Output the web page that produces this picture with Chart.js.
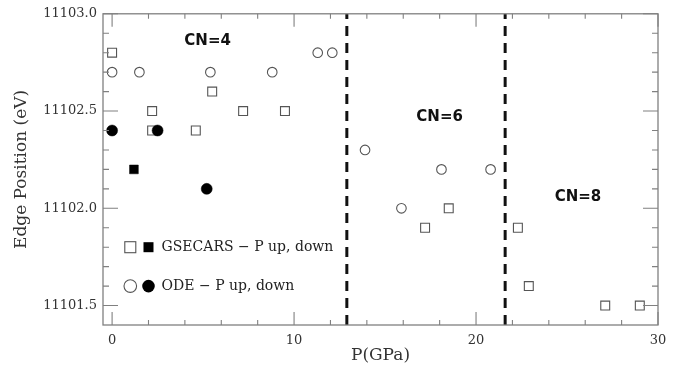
<!DOCTYPE html>
<html>
<head>
<meta charset="utf-8">
<script src="https://cdn.jsdelivr.net/npm/chart.js@4/dist/chart.umd.min.js"></script>
<style>
  html, body { margin: 0; padding: 0; background: #fff; }
  canvas { display: block; }
</style>
</head>
<body>
<canvas id="chart" width="681" height="370"></canvas>
<script>
// Pressure (GPa) and K-edge position (eV) for each measurement series
const gsecarsUpP    = [0.0, 2.2, 2.2, 5.5, 4.6, 7.2, 9.5, 17.2, 18.5, 22.3, 22.9, 27.1, 29.0];
const gsecarsUpE    = [11102.8, 11102.5, 11102.4, 11102.6, 11102.4, 11102.5, 11102.5, 11101.9, 11102.0, 11101.9, 11101.6, 11101.5, 11101.5];
const gsecarsDownP  = [1.2];
const gsecarsDownE  = [11102.2];
const odeUpP        = [0.0, 1.5, 5.4, 8.8, 11.3, 12.1, 13.9, 15.9, 18.1, 20.8];
const odeUpE        = [11102.7, 11102.7, 11102.7, 11102.7, 11102.8, 11102.8, 11102.3, 11102.0, 11102.2, 11102.2];
const odeDownP      = [0.0, 2.5, 5.2];
const odeDownE      = [11102.4, 11102.4, 11102.1];

// Coordination-number boundaries and region labels
const phaseBoundaries = [12.9, 21.6];
const regionLabels    = ['CN=4', 'CN=6', 'CN=8'];
const regionLabelP    = [5.25, 18.0, 25.6];
const regionLabelE    = [11102.86, 11102.47, 11102.06];

// Axis ranges and labelled ticks
const xRange = [-0.5, 30];
const yRange = [11101.4, 11103.0];
const xTickValues = [0, 10, 20, 30];
const yTickValues = [11101.5, 11102.0, 11102.5, 11103.0];

// Legend rows
const legendTexts = ['GSECARS \u2212 P up, down', 'ODE \u2212 P up, down'];
const legendE     = [11101.8, 11101.6];

const pts = (xs, ys) => xs.map((x, i) => ({ x: x, y: ys[i] }));

const datasets = [];
// filled markers first so they sit on top of the open ones
datasets.push({
  label: 'ODE down', data: pts(odeDownP, odeDownE),
  pointStyle: 'circle', pointRadius: 5.5, pointBackgroundColor: '#000',
  pointBorderColor: '#000', pointBorderWidth: 0.5, showLine: false
});
datasets.push({
  label: 'GSECARS down', data: pts(gsecarsDownP, gsecarsDownE),
  pointStyle: 'rect', pointRadius: 6.2, pointBackgroundColor: '#000',
  pointBorderColor: '#000', pointBorderWidth: 0.5, showLine: false
});
datasets.push({
  label: 'ODE up', data: pts(odeUpP, odeUpE),
  pointStyle: 'circle', pointRadius: 4.8, pointBackgroundColor: 'rgba(255,255,255,0)',
  pointBorderColor: '#555', pointBorderWidth: 1.1, showLine: false
});
datasets.push({
  label: 'GSECARS up', data: pts(gsecarsUpP, gsecarsUpE),
  pointStyle: 'rect', pointRadius: 6.3, pointBackgroundColor: 'rgba(255,255,255,0)',
  pointBorderColor: '#555', pointBorderWidth: 1.1, showLine: false
});
phaseBoundaries.forEach((p, i) => {
  datasets.push({
    label: 'boundary ' + (i + 1),
    data: [{ x: p, y: yRange[0] }, { x: p, y: yRange[1] }],
    showLine: true, borderColor: '#111', borderWidth: 3,
    borderDash: [10, 7], pointRadius: 0, fill: false
  });
});

// Frame, inward ticks, region labels and legend
const decorations = {
  id: 'decorations',
  afterDatasetsDraw(chart) {
    const { ctx, chartArea: a, scales: { x, y } } = chart;
    ctx.save();
    ctx.strokeStyle = '#808080';
    ctx.lineWidth = 1.3;
    ctx.strokeRect(a.left, a.top, a.right - a.left, a.bottom - a.top);

    ctx.lineWidth = 1.1;
    ctx.beginPath();
    for (let k = 0; k <= 15; k++) {
      const px = x.getPixelForValue(k * 2);
      const len = (k % 5 === 0) ? 13 : 5;
      ctx.moveTo(px, a.bottom); ctx.lineTo(px, a.bottom - len);
      ctx.moveTo(px, a.top);    ctx.lineTo(px, a.top + len);
    }
    for (let k = 0; k <= 15; k++) {
      const py = y.getPixelForValue(11101.5 + k * 0.1);
      const len = (k % 5 === 0) ? 15 : 6;
      ctx.moveTo(a.left, py);  ctx.lineTo(a.left + len, py);
      ctx.moveTo(a.right, py); ctx.lineTo(a.right - len, py);
    }
    ctx.stroke();

    // region labels
    ctx.fillStyle = '#111';
    ctx.font = 'bold 15px "DejaVu Sans"';
    ctx.textAlign = 'center';
    ctx.textBaseline = 'middle';
    regionLabels.forEach((t, i) => {
      ctx.fillText(t, x.getPixelForValue(regionLabelP[i]), y.getPixelForValue(regionLabelE[i]));
    });

    // legend
    const m1 = x.getPixelForValue(1.0);
    const m2 = x.getPixelForValue(2.0);
    const tx = x.getPixelForValue(2.72);
    ctx.font = '14px "DejaVu Serif"';
    ctx.textAlign = 'left';
    ctx.fillStyle = '#222';
    legendTexts.forEach((t, i) => {
      const py = y.getPixelForValue(legendE[i]);
      ctx.lineWidth = 1.1;
      ctx.strokeStyle = '#555';
      if (i === 0) {
        ctx.strokeRect(m1 - 5.5, py - 5.5, 11, 11);
        ctx.fillStyle = '#000';
        ctx.fillRect(m2 - 5, py - 5, 10, 10);
      } else {
        ctx.beginPath(); ctx.arc(m1, py, 6.3, 0, Math.PI * 2); ctx.stroke();
        ctx.fillStyle = '#000';
        ctx.beginPath(); ctx.arc(m2, py, 6.3, 0, Math.PI * 2); ctx.fill();
      }
      ctx.fillStyle = '#222';
      ctx.fillText(t, tx, py);
    });
    ctx.restore();
  }
};

new Chart(document.getElementById('chart'), {
  type: 'scatter',
  data: { datasets: datasets },
  options: {
    responsive: false,
    animation: false,
    devicePixelRatio: 1,
    layout: { padding: { left: 0, right: 23, top: 10, bottom: 0 } },
    plugins: { legend: { display: false }, tooltip: { enabled: false } },
    scales: {
      x: {
        type: 'linear', min: xRange[0], max: xRange[1],
        afterBuildTicks: (s) => { s.ticks = xTickValues.map(v => ({ value: v })); },
        afterFit: (s) => { s.height = 45; },
        grid: { display: false, drawTicks: false },
        border: { display: false },
        ticks: { padding: 8, color: '#333', font: { family: 'DejaVu Serif', size: 13 }, maxRotation: 0 },
        title: { display: true, text: 'P(GPa)', color: '#333',
                 font: { family: 'DejaVu Serif', size: 17 }, padding: { top: 0, bottom: 4 } }
      },
      y: {
        type: 'linear', min: yRange[0], max: yRange[1],
        afterBuildTicks: (s) => { s.ticks = yTickValues.map(v => ({ value: v })); },
        afterFit: (s) => { s.width = 103; },
        grid: { display: false, drawTicks: false },
        border: { display: false },
        ticks: { padding: 6, color: '#333', font: { family: 'DejaVu Serif', size: 13 },
                 callback: (v) => Number(v).toFixed(1) },
        title: { display: true, text: 'Edge Position (eV)', color: '#333',
                 font: { family: 'DejaVu Serif', size: 17 }, padding: { top: 11, bottom: 0 } }
      }
    }
  },
  plugins: [decorations]
});
</script>
</body>
</html>
